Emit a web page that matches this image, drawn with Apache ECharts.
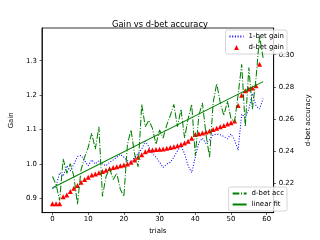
<!DOCTYPE html>
<html>
<head>
<meta charset="utf-8">
<script src="https://cdn.jsdelivr.net/npm/echarts@6/dist/echarts.min.js"></script>
<style>html,body{margin:0;padding:0;background:#fff}#c{width:320px;height:240px}</style>
</head>
<body>
<div id="c"></div>
<script>
const trials = [0,1,2,3,4,5,6,7,8,9,10,11,12,13,14,15,16,17,18,19,20,21,22,23,24,25,26,27,28,29,30,31,32,33,34,35,36,37,38,39,40,41,42,43,44,45,46,47,48,49,50,51,52,53,54,55,56,57,58,59];
const oneBetGain = [0.928,0.935,0.975,0.965,0.995,0.98,1.0,1.022,1.025,1.01,0.995,1.012,1.0,1.01,1.0,0.995,1.005,1.012,1.02,1.028,1.02,1.01,1.005,1.02,1.03,1.043,1.067,1.05,1.03,1.02,1.005,0.99,1.0,1.005,1.02,1.038,1.053,1.03,0.995,0.975,1.02,1.062,1.075,1.06,1.07,1.085,1.087,1.085,1.08,1.073,1.087,1.07,1.04,1.145,1.135,1.16,1.205,1.17,1.16,1.19];
const dBetGain = [0.885,0.885,0.885,0.905,0.91,0.92,0.93,0.938,0.947,0.955,0.962,0.968,0.971,0.975,0.978,0.982,0.986,0.99,0.992,0.995,0.997,1.0,1.005,1.012,1.02,1.027,1.036,1.04,1.041,1.042,1.043,1.044,1.046,1.048,1.05,1.053,1.057,1.061,1.066,1.075,1.086,1.088,1.09,1.093,1.096,1.1,1.104,1.108,1.112,1.116,1.12,1.125,1.17,1.2,1.213,1.218,1.221,1.227,1.29];
const dBetAcc = [0.224,0.219,0.209,0.235,0.226,0.232,0.224,0.2066,0.228,0.236,0.242,0.251,0.241,0.255,0.2115,0.224,0.229,0.222,0.226,0.216,0.2115,0.244,0.253,0.238,0.23,0.269,0.255,0.259,0.254,0.244,0.253,0.248,0.256,0.262,0.269,0.255,0.266,0.248,0.26,0.269,0.237,0.262,0.27,0.25,0.236,0.27,0.282,0.27,0.262,0.271,0.26,0.258,0.275,0.294,0.255,0.292,0.266,0.285,0.3114,0.298];
const fitX = [0, 59];
const fitY = [0.2169, 0.2832];
const xTicks = [0,10,20,30,40,50,60];
const leftTicks = [0.9,1.0,1.1,1.2,1.3];
const rightTicks = [0.22,0.24,0.26,0.28,0.30];

const FONT = 'DejaVu Sans';
const pair = (xs, ys) => ys.map((v, i) => [xs[i], v]);

const axisLine = {show: true, onZero: false, lineStyle: {color: '#000', width: 0.8}};
const tickStyle = {color: '#000', width: 0.6};
const txt = {fontFamily: FONT, fontSize: 6.94, color: '#000'};
const legendBase = {
  orient: 'vertical', right: 33,
  itemWidth: 14, itemHeight: 6, itemGap: 4, padding: [3, 3, 3, 3],
  backgroundColor: 'rgba(255,255,255,0.8)', borderColor: '#cccccc', borderWidth: 0.8, borderRadius: 2,
  textStyle: txt
};
const noSym = {opacity: 0};

const chart = echarts.init(document.getElementById('c'), null, {renderer: 'canvas'});
chart.setOption({
  animation: false,
  backgroundColor: '#fff',
  title: {
    text: 'Gain vs d-bet accuracy', left: 'center', top: 15.5,
    textStyle: {fontFamily: FONT, fontSize: 8.33, fontWeight: 'normal', color: '#000'}
  },
  grid: {left: 40, top: 28, width: 248, height: 186.3, show: true, borderColor: '#000', borderWidth: 0.8, backgroundColor: 'transparent'},
  xAxis: {
    type: 'value', min: -2.95, max: 61.95,
    name: 'trials', nameLocation: 'middle', nameGap: 11, nameTextStyle: txt,
    axisLine: axisLine, splitLine: {show: false},
    axisTick: {show: true, length: 2.4, lineStyle: tickStyle, customValues: xTicks},
    axisLabel: Object.assign({margin: 3.5, customValues: xTicks}, txt)
  },
  yAxis: [
    {
      type: 'value', min: 0.859, max: 1.395, position: 'left',
      name: 'Gain', nameLocation: 'middle', nameGap: 15, nameRotate: 90, nameTextStyle: txt,
      axisLine: axisLine, splitLine: {show: false},
      axisTick: {show: true, length: 2.4, lineStyle: tickStyle, customValues: leftTicks},
      axisLabel: Object.assign({margin: 5, customValues: leftTicks, formatter: v => v.toFixed(1)}, txt)
    },
    {
      type: 'value', min: 0.2014, max: 0.3167, position: 'right',
      name: 'd-bet accuracy', nameLocation: 'middle', nameGap: 23, nameRotate: 90, nameTextStyle: txt,
      axisLine: axisLine, splitLine: {show: false},
      axisTick: {show: true, length: 2.4, lineStyle: tickStyle, customValues: rightTicks},
      axisLabel: Object.assign({margin: 5, customValues: rightTicks, formatter: v => v.toFixed(2)}, txt)
    }
  ],
  legend: [
    Object.assign({}, legendBase, {
      top: 30, z: 4,
      data: [
        {name: '1-bet gain', itemStyle: noSym},
        {name: 'd-bet gain', icon: 'path://M0,0 M14,6 M7,0.6 L9.4,5.4 L4.6,5.4 Z'}
      ]
    }),
    Object.assign({}, legendBase, {
      bottom: 29, z: 6,
      data: [
        {name: 'd-bet acc', itemStyle: noSym},
        {name: 'linear fit', itemStyle: noSym}
      ]
    })
  ],
  series: [
    {
      name: '1-bet gain', type: 'line', yAxisIndex: 0, z: 2, symbol: 'none',
      data: pair(trials, oneBetGain),
      lineStyle: {color: '#0000ff', width: 1.04, type: [1, 1.7]}, itemStyle: {color: '#0000ff'}
    },
    {
      name: 'd-bet gain', type: 'scatter', yAxisIndex: 0, z: 3, symbol: 'triangle', symbolSize: 5,
      data: pair(trials, dBetGain),
      itemStyle: {color: '#ff0000', opacity: 1}
    },
    {
      name: 'd-bet acc', type: 'line', yAxisIndex: 1, z: 5, symbol: 'none',
      data: pair(trials, dBetAcc),
      lineStyle: {color: '#008000', width: 1.04, type: [6.7, 1.7, 1, 1.7]}, itemStyle: {color: '#008000'}
    },
    {
      name: 'linear fit', type: 'line', yAxisIndex: 1, z: 5, symbol: 'none',
      data: pair(fitX, fitY),
      lineStyle: {color: '#008000', width: 1.04}, itemStyle: {color: '#008000'}
    }
  ]
});
</script>
</body>
</html>
